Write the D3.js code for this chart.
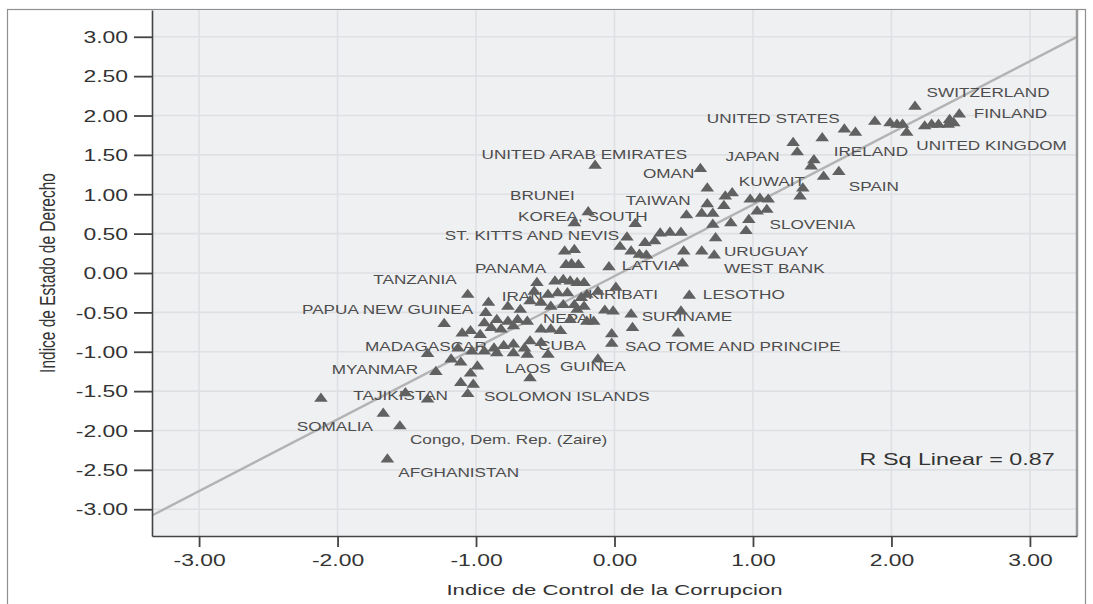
<!DOCTYPE html>
<html><head><meta charset="utf-8">
<script src="https://cdn.jsdelivr.net/npm/d3@7"></script>
<style>
html,body{margin:0;padding:0;background:#fff;}
svg{display:block;font-family:Arial,"Liberation Sans",sans-serif;}
</style></head>
<body>
<svg id="chart" width="1093" height="604"></svg>
<script>
// ---- data: Indice de Control de la Corrupcion (x) vs Indice de Estado de Derecho (y)
const corrupcion = [
 2.17,1.88,1.99,2.04,2.08,2.11,1.66,1.74,1.50,
 2.24,2.29,2.34,2.41,2.45,2.49,2.42,
 1.29,1.32,1.44,1.42,1.62,1.51,1.36,1.34,
 -0.14,0.62,-0.19,-0.29,0.15,0.67,0.67,0.63,0.71,0.52,0.80,0.85,0.79,0.98,1.05,1.11,1.03,1.10,0.97,0.84,0.71,0.95,
 0.09,0.73,0.33,0.40,0.48,0.22,0.29,0.04,0.12,0.18,0.23,0.50,0.63,0.72,-0.04,0.49,-0.36,-0.29,-0.35,-0.31,-0.26,
 -0.56,-0.43,-0.37,-0.32,-0.27,-0.22,-1.06,-0.58,-0.48,-0.41,-0.34,-0.20,-0.12,0.01,
 -0.91,-0.77,-0.68,-0.61,-0.53,-0.46,-0.37,-0.29,-0.27,-0.22,-0.07,-0.01,0.12,
 -0.93,-1.23,-0.94,-0.85,-0.77,-0.70,-0.63,-0.89,-0.82,-0.73,-0.53,-0.46,-0.39,-0.32,-0.20,-0.15,-0.02,0.13,
 -1.10,-1.04,-0.97,-0.02,-0.87,-0.80,-0.73,-0.65,-0.61,-0.53,-0.94,-0.85,-0.73,-0.63,-0.48,-0.12,
 -1.13,-1.18,-1.11,-0.99,-1.04,-0.61,-1.11,-1.02,-1.06,-1.29,-1.35,-1.51,-1.35,-2.12,-1.67,-1.55,-1.64,
 0.54,0.48,0.46,-0.24,-1.03
];
const derecho = [
 2.13,1.94,1.92,1.90,1.90,1.80,1.84,1.80,1.73,
 1.88,1.90,1.90,1.90,1.92,2.03,1.96,
 1.67,1.55,1.45,1.37,1.30,1.24,1.09,0.99,
 1.38,1.34,0.79,0.65,0.64,1.09,0.89,0.77,0.77,0.75,0.99,1.03,0.87,0.95,0.96,0.95,0.80,0.82,0.69,0.65,0.63,0.55,
 0.47,0.46,0.52,0.53,0.53,0.40,0.42,0.35,0.29,0.25,0.24,0.29,0.29,0.24,0.09,0.14,0.29,0.31,0.12,0.13,0.12,
 -0.11,-0.09,-0.07,-0.09,-0.11,-0.11,-0.26,-0.22,-0.26,-0.24,-0.24,-0.26,-0.22,-0.17,
 -0.36,-0.41,-0.45,-0.34,-0.36,-0.41,-0.39,-0.39,-0.45,-0.41,-0.46,-0.47,-0.51,
 -0.49,-0.63,-0.62,-0.58,-0.60,-0.58,-0.60,-0.68,-0.70,-0.66,-0.70,-0.70,-0.72,-0.58,-0.60,-0.60,-0.76,-0.68,
 -0.75,-0.72,-0.77,-0.88,-0.94,-0.91,-0.89,-0.94,-0.85,-0.87,-0.98,-1.00,-1.00,-1.02,-1.02,-1.08,
 -0.94,-1.08,-1.12,-1.17,-1.26,-1.32,-1.38,-1.40,-1.52,-1.24,-1.01,-1.51,-1.59,-1.58,-1.77,-1.93,-2.35,
 -0.27,-0.47,-0.75,-0.30,-0.98
];
// country labels and where their text starts (data units)
const labelNames = ["SWITZERLAND","FINLAND","UNITED STATES","UNITED KINGDOM","IRELAND","JAPAN",
 "UNITED ARAB EMIRATES","OMAN","KUWAIT","SPAIN","BRUNEI","TAIWAN","KOREA, SOUTH","SLOVENIA",
 "ST. KITTS AND NEVIS","URUGUAY","LATVIA","PANAMA","WEST BANK","TANZANIA","KIRIBATI","LESOTHO",
 "IRAN","PAPUA NEW GUINEA","NEPAL","SURINAME","CUBA","MADAGASCAR","SAO TOME AND PRINCIPE","LAOS",
 "GUINEA","MYANMAR","TAJIKISTAN","SOLOMON ISLANDS","SOMALIA","Congo, Dem. Rep. (Zaire)","AFGHANISTAN"];
const labelX = [2.254,2.595,0.667,2.180,1.583,0.802,-0.960,0.205,0.898,1.692,-0.755,0.082,-0.697,1.119,
 -1.225,0.790,0.053,-1.008,0.790,-1.742,-0.192,0.638,-0.815,-2.257,-0.517,0.196,-0.551,-1.802,0.075,-0.791,
 -0.394,-2.042,-1.886,-0.943,-2.295,-1.477,-1.561];
const labelY = [2.229,1.969,1.911,1.556,1.490,1.425,1.454,1.210,1.105,1.041,0.933,0.867,0.660,0.554,
 0.425,0.210,0.038,0.000,0.006,-0.146,-0.324,-0.324,-0.356,-0.527,-0.629,-0.610,-0.972,-0.991,-0.991,-1.270,
 -1.245,-1.289,-1.607,-1.626,-2.007,-2.172,-2.591];
const xTicks = [-3,-2,-1,0,1,2,3];
const yTicks = [-3,-2.5,-2,-1.5,-1,-0.5,0,0.5,1,1.5,2,2.5,3];
const fitIntercept = -0.04, fitSlope = 0.91;
const rSquared = 0.87;
const xTitle = "Indice de Control de la Corrupcion";
const yTitle = "Indice de Estado de Derecho";

// ---- layout
const P = {left:152, right:1077, top:10, bottom:536};
const SX = 1.43; // horizontal stretch of the raster text
const svg = d3.select("#chart");
const x = d3.scaleLinear().domain([-3.34,3.34]).range([P.left,P.right]);
const y = d3.scaleLinear().domain([-3.34,3.34]).range([P.bottom,P.top]);
const fmt = d => d3.format(".2f")(d).replace("\u2212","-");

// outer frame
svg.append("rect").attr("x",7.5).attr("y",9.5).attr("width",1078).attr("height",620)
  .attr("fill","none").attr("stroke","#8f8f8f").attr("stroke-width",1.2);

// plot background
svg.append("rect").attr("x",P.left).attr("y",P.top).attr("width",P.right-P.left).attr("height",P.bottom-P.top)
  .attr("fill","#eff0f2");
svg.append("defs").append("clipPath").attr("id","clip").append("rect")
  .attr("x",P.left).attr("y",P.top).attr("width",P.right-P.left).attr("height",P.bottom-P.top);

// grid
const grid = svg.append("g");
grid.selectAll(".vg").data(xTicks).join("line")
  .attr("x1",d=>x(d)).attr("x2",d=>x(d)).attr("y1",P.top).attr("y2",P.bottom)
  .attr("stroke","#dfe0e4").attr("stroke-width",1.6);
grid.selectAll(".hg").data(yTicks).join("line")
  .attr("y1",d=>y(d)).attr("y2",d=>y(d)).attr("x1",P.left).attr("x2",P.right)
  .attr("stroke","#dfe0e4").attr("stroke-width",1.6);

// fit line
const xd = x.domain();
svg.append("line").attr("clip-path","url(#clip)")
  .attr("x1",x(xd[0])).attr("y1",y(fitIntercept+fitSlope*xd[0]))
  .attr("x2",x(xd[1])).attr("y2",y(fitIntercept+fitSlope*xd[1]))
  .attr("stroke","#b3b3b3").attr("stroke-width",2.4);

// labels (under the markers)
svg.append("g").selectAll("text").data(labelNames).join("text")
  .attr("transform",(d,i)=>`translate(${x(labelX[i])},${y(labelY[i])}) scale(${SX},1)`)
  .attr("font-size",12).attr("fill","#4d4d4d").text(d=>d);

// markers
const tri = "M-6.8,4.4L6.8,4.4L0,-4.8Z";
svg.append("g").attr("clip-path","url(#clip)").selectAll("path").data(corrupcion).join("path")
  .attr("d",tri).attr("transform",(d,i)=>`translate(${x(d)},${y(derecho[i])})`)
  .attr("fill","#616161");

// R squared
svg.append("text").attr("transform",`translate(${x(1.77)},${y(-2.44)}) scale(${SX},1)`)
  .attr("font-size",16.3).attr("fill","#333").text("R Sq Linear = " + rSquared.toFixed(2));

// right border
svg.append("line").attr("x1",P.right).attr("x2",P.right).attr("y1",P.top).attr("y2",P.bottom)
  .attr("stroke","#9a9a9a").attr("stroke-width",2.5);

// axes
const xAxis = svg.append("g").attr("transform",`translate(0,${P.bottom})`)
  .call(d3.axisBottom(x).tickValues(xTicks).tickFormat(fmt).tickSize(11).tickSizeOuter(0));
const yAxis = svg.append("g").attr("transform",`translate(${P.left},0)`)
  .call(d3.axisLeft(y).tickValues(yTicks).tickFormat(fmt).tickSize(18).tickSizeOuter(0));
[xAxis,yAxis].forEach(a=>{
  a.select(".domain").attr("stroke","#444").attr("stroke-width",1.6);
  a.selectAll(".tick line").attr("stroke","#444").attr("stroke-width",1.8);
  a.selectAll("text").attr("font-family",'Arial,"Liberation Sans",sans-serif').attr("font-size",16).attr("fill","#333");
});
xAxis.selectAll("text").attr("y",null).attr("dy",null)
  .attr("transform",`translate(0,30) scale(${SX},1)`);
yAxis.selectAll("text").attr("x",null).attr("dy","0.36em")
  .attr("transform",`translate(-24,0) scale(${SX},1)`);

// axis titles
svg.append("text").attr("text-anchor","middle")
  .attr("transform",`translate(${(P.left+P.right)/2},595) scale(${SX},1)`)
  .attr("font-size",15.5).attr("fill","#333").text(xTitle);
svg.append("text").attr("text-anchor","middle")
  .attr("transform",`translate(55,${(P.top+P.bottom)/2}) scale(${SX},1) rotate(-90)`)
  .attr("font-size",15.5).attr("fill","#333").text(yTitle);
</script>
</body></html>
